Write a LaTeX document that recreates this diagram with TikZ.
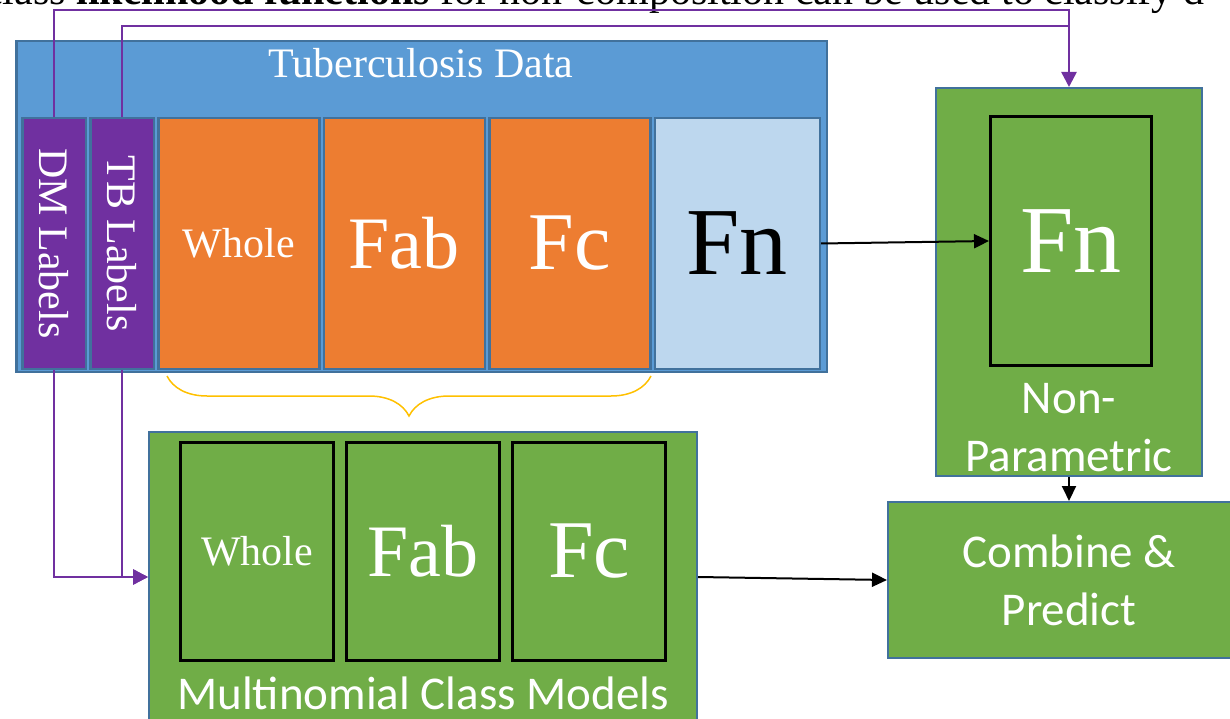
\documentclass[tikz,border=0pt]{standalone}
\usepackage{xcolor}
\usepackage{fontspec}
\setmainfont{Liberation Serif}
\newfontfamily\calfont{Carlito}
\usepackage{tikz}
\usetikzlibrary{arrows.meta,positioning,decorations.pathreplacing}
\definecolor{tbblue}{HTML}{5B9BD5}
\definecolor{edgeblue}{HTML}{41719C}
\definecolor{lblpurple}{HTML}{7030A0}
\definecolor{partorange}{HTML}{ED7D31}
\definecolor{fnblue}{HTML}{BDD7EE}
\definecolor{modgreen}{HTML}{70AD47}
\definecolor{bracegold}{HTML}{FFC000}

\begin{document}
\begin{tikzpicture}[
  x=1pt, y=-1pt,
  node distance=2pt,
  cell/.style={draw=edgeblue, line width=2.5pt, minimum height=250.5pt, inner sep=0pt, text=white},
  lbl/.style={cell, fill=lblpurple, minimum width=63.5pt},
  part/.style={cell, fill=partorange, minimum width=161pt},
  model/.style={draw=black, line width=3pt, inner sep=0pt, text=white, minimum width=153pt, minimum height=218pt},
  grp/.style={draw=edgeblue, line width=2pt, fill=modgreen, inner sep=0pt, text=white},
  link/.style={lblpurple, line width=2.5pt, -{Triangle[length=15pt,width=15pt]}},
  flow/.style={black, line width=2pt, -{Triangle[length=15pt,width=14pt]}},
  serif/.style={font=\fontsize{42pt}{48pt}\selectfont},
  calib/.style={font=\calfont\fontsize{47pt}{58pt}\selectfont, align=center}
]
\useasboundingbox (0,0) rectangle (1230,719);
\clip (0,0) rectangle (1230,719);

\node[anchor=base west, inner sep=0pt, serif] (caption) at (-16,5)
  {class \textbf{likelihood functions} for non-composition can be used to classify d};

\node[draw=edgeblue, line width=2.5pt, fill=tbblue, minimum width=810.5pt, minimum height=330.5pt] (data) at (421.5,206.5) {};
\node[anchor=base, text=white, serif] (datatitle) at (421,78) {Tuberculosis Data};

\node[lbl] (dm) at (54,243.5) {};
\node[lbl, right=of dm] (tb) {};
\node[part, right=of tb, serif] (whole) {Whole};
\node[part, right=of whole, font=\fontsize{74pt}{80pt}\selectfont] (fab) {Fab};
\node[part, right=of fab, font=\fontsize{82pt}{88pt}\selectfont] (fc) {Fc};
\node[cell, fill=fnblue, text=black, minimum width=165pt, right=of fc, font=\fontsize{96pt}{100pt}\selectfont] (fn) {Fn};
\node[rotate=-90, text=white, serif] (dmtxt) at (dm) {DM Labels};
\node[rotate=-90, text=white, serif] (tbtxt) at (tb) {TB Labels};

\node[grp, minimum width=266pt, minimum height=388pt] (np) at (1069,282) {};
\node[model, minimum width=161pt, minimum height=249pt, font=\fontsize{96pt}{100pt}\selectfont] (npfn) at (1071,241) {Fn};
\node[anchor=north, inner sep=0pt, text=white, calib] (nptxt) at (1069,383) {Non-\\Parametric};

\node[grp, minimum width=362pt, minimum height=156pt, below=24pt of np, calib] (comb) {Combine \&\\Predict};

\node[grp, minimum width=548pt, minimum height=290pt] (mult) at (423,577) {};
\node[model, serif] (mwhole) at (257,551.5) {Whole};
\node[model, right=10pt of mwhole, font=\fontsize{74pt}{80pt}\selectfont] (mfab) {Fab};
\node[model, right=10pt of mfab, font=\fontsize{82pt}{88pt}\selectfont] (mfc) {Fc};
\node[anchor=base, inner sep=0pt, text=white, calib] (multtxt) at (423,709) {Multinomial Class Models};

\draw[bracegold, line width=1.5pt, decorate, decoration={brace, mirror, amplitude=40pt}] (167,376) -- (651,376);

\coordinate (dmtop) at (1069,10);
\coordinate (tbtop) at (1069,26);
\draw[link] (dm.north) |- (dmtop) -- (np.north);
\draw[lblpurple, line width=2.5pt] (tb.north) |- (tbtop);
\draw[link] (dm.south) |- (mult.west);
\draw[link] (tb.south) |- (mult.west);

\draw[flow] (fn.east) -- (npfn.west);
\draw[flow] (np.south) -- (comb.north);
\draw[flow] (mult.east) -- (comb.west);
\end{tikzpicture}
\end{document}
